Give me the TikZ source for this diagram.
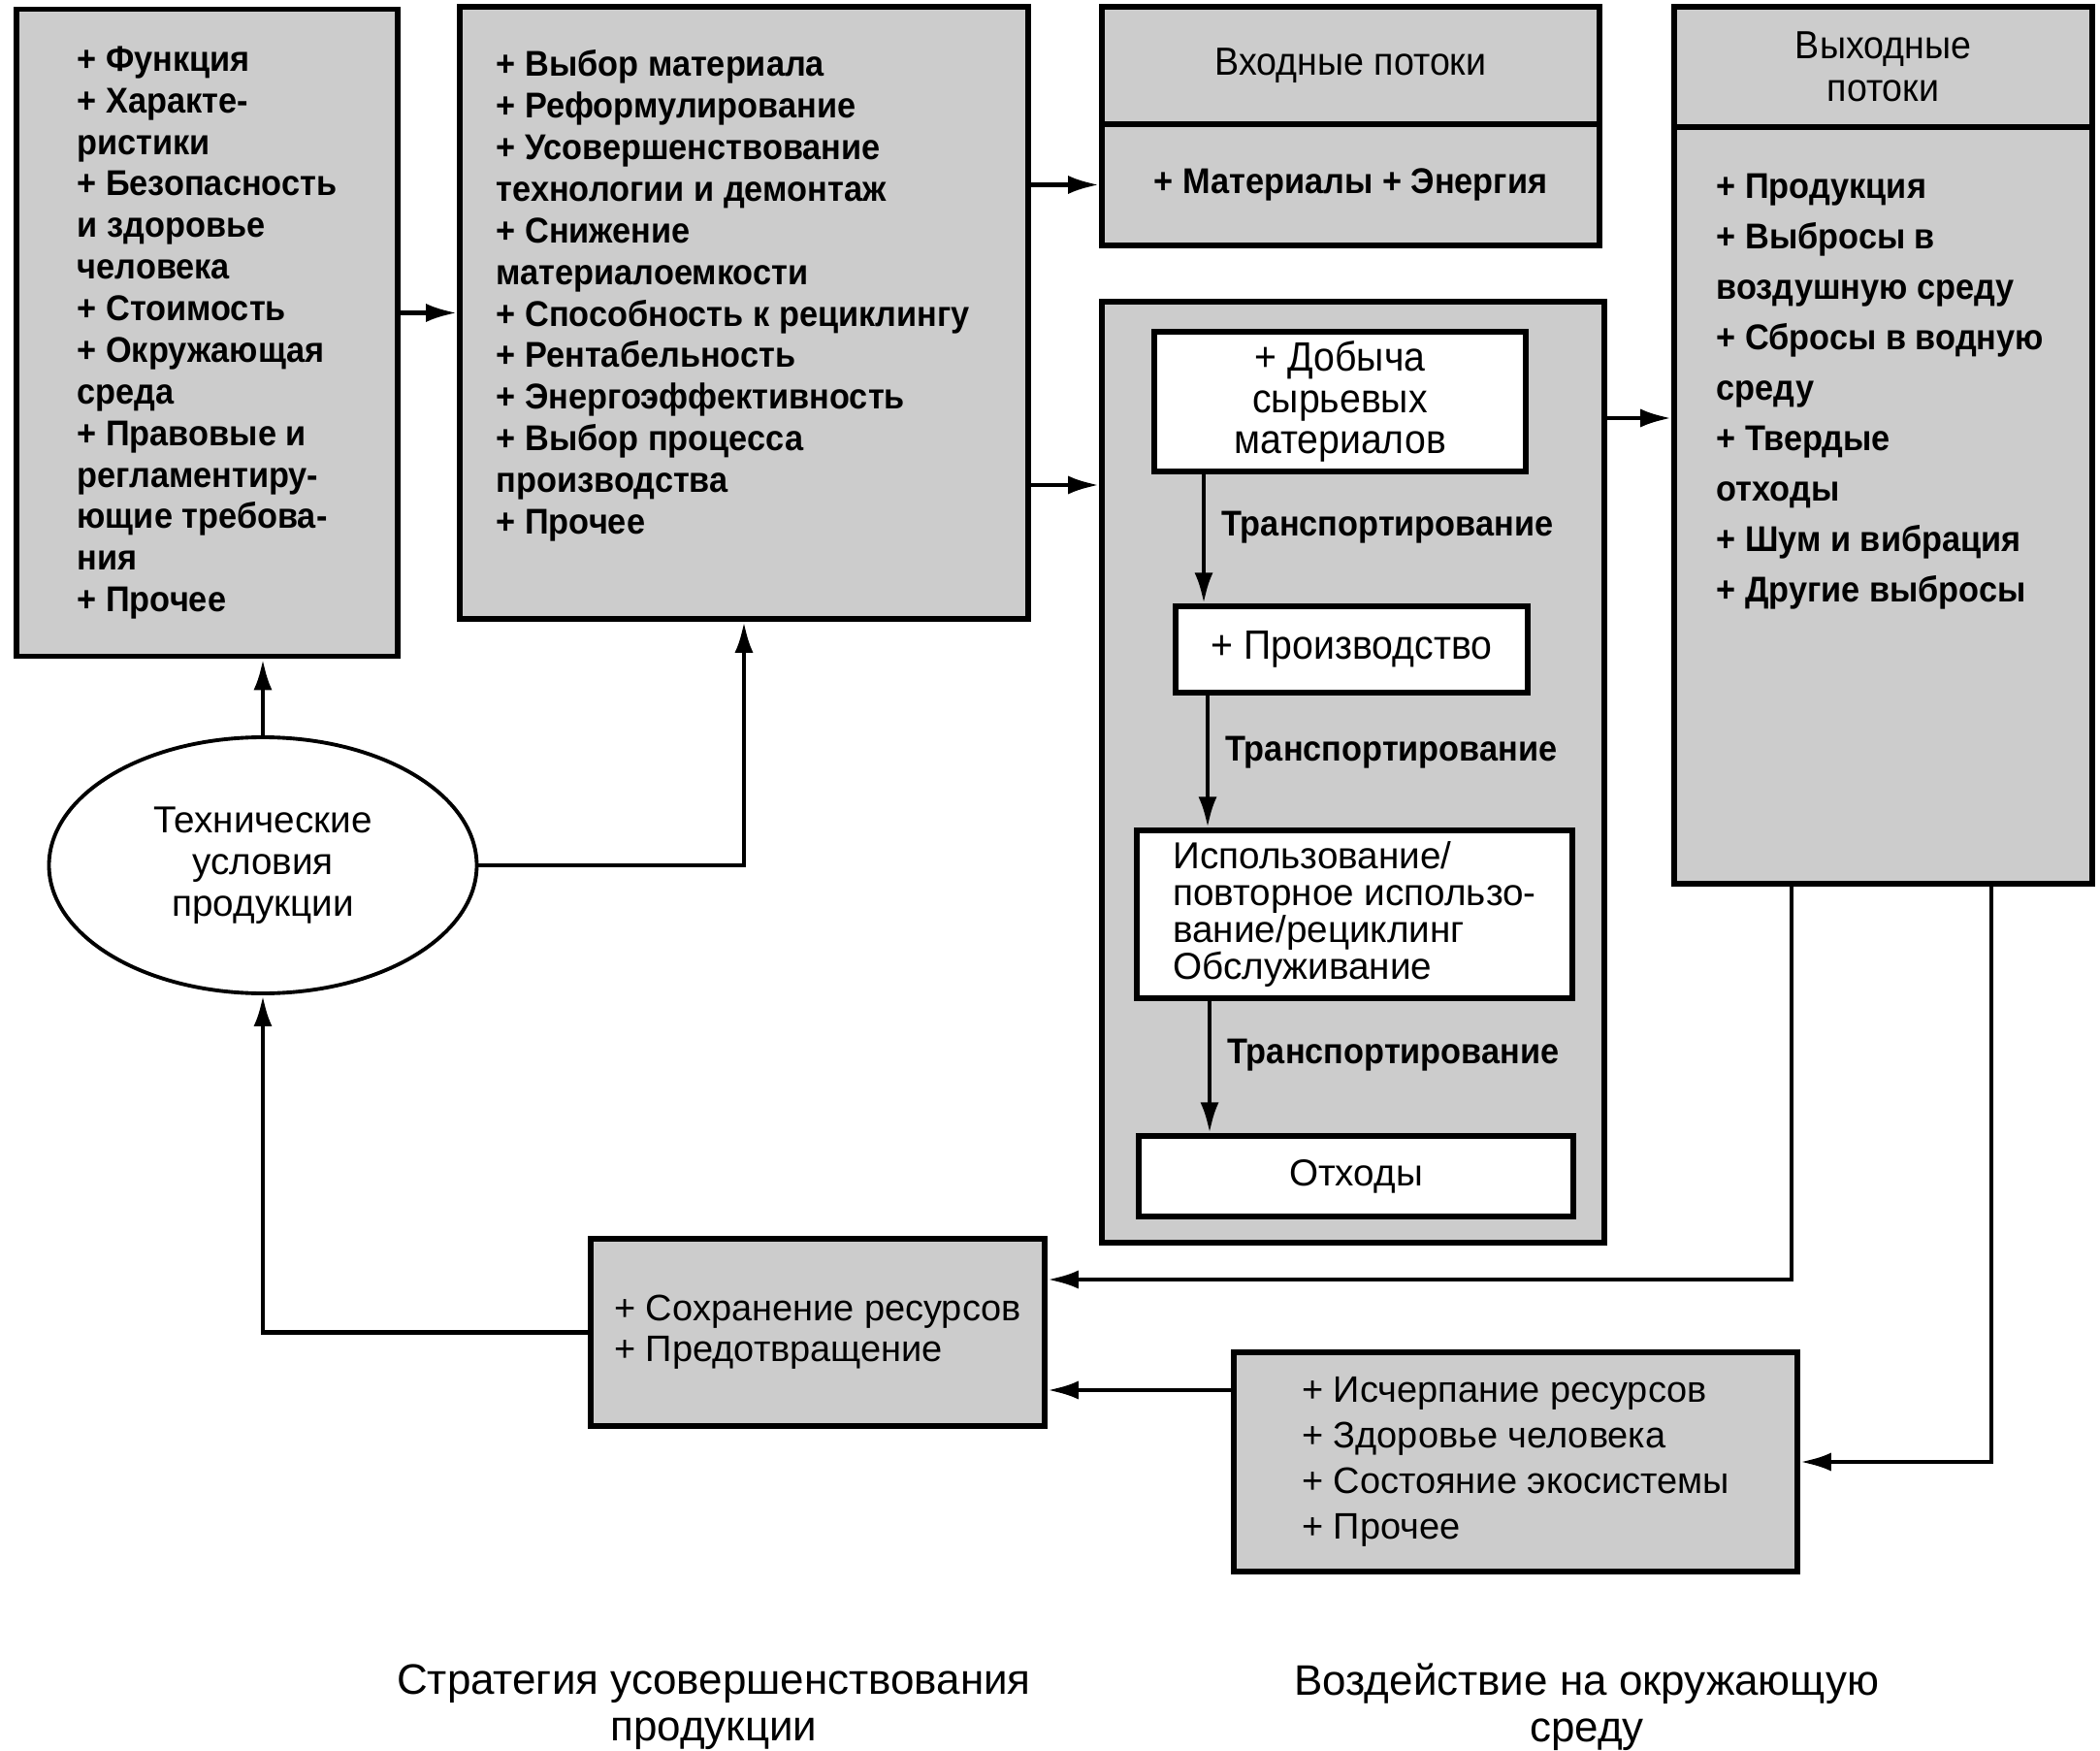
\documentclass[tikz,border=0pt]{standalone}
\usepackage{fontspec}
\setmainfont{Liberation Sans}
\newfontfamily\narrowfont[FakeStretch=0.93]{Liberation Sans}
\usetikzlibrary{shapes.geometric, arrows.meta, positioning, calc}
\definecolor{boxgrey}{gray}{0.80}

\begin{document}
\begin{tikzpicture}[
    greybox/.style={rectangle, draw=black, line width=1.6pt, fill=boxgrey, inner sep=0pt},
    whitebox/.style={rectangle, draw=black, line width=1.5pt, fill=white, inner sep=0pt},
    listtext/.style={font=\narrowfont\bfseries\fontsize{10.5}{12.2}\selectfont, align=left, inner sep=0pt},
    headtext/.style={font=\narrowfont\fontsize{11.5}{12.6}\selectfont, align=center},
    innertext/.style={font=\narrowfont\fontsize{12}{12.1}\selectfont, align=center},
    plaintext/.style={font=\fontsize{11}{12.2}\selectfont, align=center},
    arrow/.style={line width=1.3pt, -{Latex[length=3.2mm, width=1.9mm]}},
    transport/.style={font=\narrowfont\bfseries\fontsize{10.5}{12.2}\selectfont, anchor=west, inner sep=0pt, xshift=1.6mm},
    caption/.style={font=\fontsize{12.5}{13.6}\selectfont, align=center}
]
\useasboundingbox (0,0) rectangle (21.65,-18.05);

% Product criteria
\node[greybox, listtext, minimum width=3.93cm, minimum height=6.67cm] (crit) at (2.135,-3.43)
    {+ Функция\\+ Характе-\\ристики\\+ Безопасность\\и здоровье\\человека\\+ Стоимость\\+ Окружающая\\среда\\+ Правовые и\\регламентиру-\\ющие требова-\\ния\\+ Прочее};

% Improvement strategy
\node[greybox, minimum width=5.86cm, minimum height=6.31cm] (strat) at (7.67,-3.225) {};
\node[listtext, anchor=north west] (strattext) at (5.11,-0.51)
    {+ Выбор материала\\+ Реформулирование\\+ Усовершенствование\\технологии и демонтаж\\+ Снижение\\материалоемкости\\+ Способность к рециклингу\\+ Рентабельность\\+ Энергоэффективность\\+ Выбор процесса\\производства\\+ Прочее};

% Input flows
\node[greybox, headtext, minimum width=5.13cm, minimum height=1.21cm] (inhead) at (13.925,-0.675) {Входные потоки};
\node[greybox, listtext, minimum width=5.13cm, minimum height=1.25cm] (inbody) at (13.925,-1.905) {+ Материалы + Энергия};

% Output flows
\node[greybox, headtext, minimum width=4.31cm, minimum height=1.24cm] (outhead) at (19.415,-0.69) {Выходные\\потоки};
\node[greybox, minimum width=4.31cm, minimum height=7.80cm] (outbody) at (19.415,-5.21) {};
\node[listtext, anchor=north west, font=\narrowfont\bfseries\fontsize{10.5}{14.8}\selectfont] (outtext) at (17.69,-1.78)
    {+ Продукция\\+ Выбросы в\\воздушную среду\\+ Сбросы в водную\\среду\\+ Твердые\\отходы\\+ Шум и вибрация\\+ Другие выбросы};

% Life cycle
\node[greybox, minimum width=5.18cm, minimum height=9.70cm] (proc) at (13.95,-7.96) {};
\node[whitebox, innertext, minimum width=3.83cm, minimum height=1.44cm] (extract) at (13.815,-4.14) {+ Добыча\\сырьевых\\материалов};
\node[whitebox, innertext, minimum width=3.63cm, minimum height=0.89cm] (manuf) at (13.935,-6.695) {+ Производство};
\node[whitebox, font=\fontsize{11}{10.9}\selectfont, align=left, minimum width=4.49cm, minimum height=1.73cm] (usage) at (13.965,-9.425)
    {Использование/\\повторное использо-\\вание/рециклинг\\Обслуживание};
\node[whitebox, plaintext, minimum width=4.48cm, minimum height=0.83cm] (waste) at (13.98,-12.125) {Отходы};

% Specification
\node[ellipse, draw=black, line width=1.1pt, fill=white, plaintext, minimum width=4.41cm, minimum height=2.64cm] (spec) at (2.71,-8.92) {Технические\\условия\\продукции};

% Measures and impacts
\node[greybox, font=\fontsize{10.8}{12}\selectfont, align=left, minimum width=4.68cm, minimum height=1.93cm] (save) at (8.43,-13.735)
    {+ Сохранение ресурсов\\+ Предотвращение};
\node[greybox, font=\fontsize{10.8}{13.4}\selectfont, align=left, minimum width=5.81cm, minimum height=2.26cm] (impact) at (15.625,-15.07)
    {+ Исчерпание ресурсов\\+ Здоровье человека\\+ Состояние экосистемы\\+ Прочее};

% Captions
\node[caption] (capstrat) at (7.36,-17.6) {Стратегия усовершенствования\\продукции};
\node[caption] (capimpact) at (16.36,-17.6) {Воздействие на окружающую\\среду};

% Connections
\draw[arrow] (crit.east |- strat.west) -- (strat.west);
\draw[arrow] (strat.east |- inbody.west) -- (inbody.west);
\draw[arrow] (strat.east |- 0,-5.0) -- (proc.west |- 0,-5.0);
\draw[arrow] (proc.east |- 0,-4.31) -- (outbody.west |- 0,-4.31);
\draw[arrow] (spec.north) -- (spec.north |- crit.south);
\draw[arrow] (spec.east) -| (strat.south);
\draw[arrow] (save.west) -| (spec.south);
\draw[arrow] (18.47,0 |- outbody.south) |- (save.east |- 0,-13.19);
\draw[arrow] (20.53,0 |- outbody.south) |- (impact.east);
\draw[arrow] (impact.west |- 0,-14.33) -- (save.east |- 0,-14.33);

% Transport steps
\draw[arrow] (12.41,0 |- extract.south) -- node[transport, pos=0.41] {Транспортирование} (12.41,0 |- manuf.north);
\draw[arrow] (12.45,0 |- manuf.south) -- node[transport, pos=0.43] {Транспортирование} (12.45,0 |- usage.north);
\draw[arrow] (12.47,0 |- usage.south) -- node[transport, pos=0.41] {Транспортирование} (12.47,0 |- waste.north);

\end{tikzpicture}
\end{document}
